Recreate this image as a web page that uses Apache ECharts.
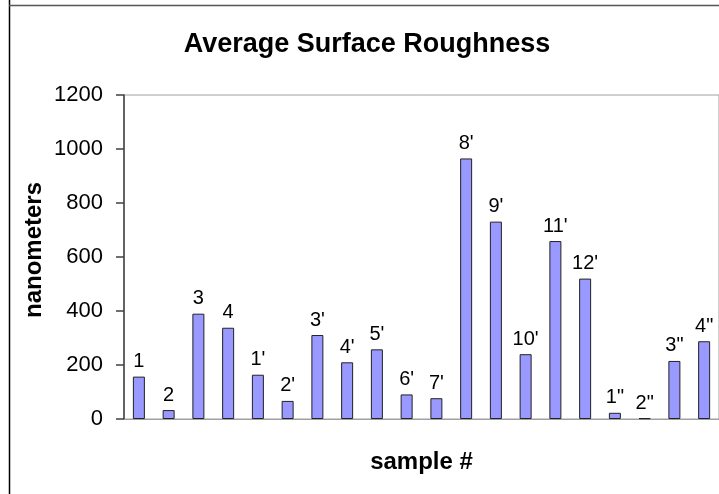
<!DOCTYPE html>
<html>
<head>
<meta charset="utf-8">
<script src="https://cdn.jsdelivr.net/npm/echarts@6/dist/echarts.min.js"></script>
<style>
html,body{margin:0;padding:0;background:#fff;}
#chart{width:719px;height:494px;}
</style>
</head>
<body>
<div id="chart"></div>
<script>
const categories = ['1','2','3','4',"1'","2'","3'","4'","5'","6'","7'","8'","9'","10'","11'","12'",'1"','2"','3"','4"'];
const roughness = [157,33,390,338,164,67,311,210,258,91,77,965,731,240,659,520,23,3,215,288];
const yTicks = [0,200,400,600,800,1000,1200];

const FONT = "'Liberation Sans', Arial, sans-serif";
const chart = echarts.init(document.getElementById('chart'), null, {renderer:'canvas'});
chart.setOption({
  animation: false,
  backgroundColor: '#ffffff',
  title: {
    text: 'Average Surface Roughness',
    left: 367, top: 31, textAlign: 'center', padding: 0,
    textStyle: {fontFamily: FONT, fontSize: 27, fontWeight: 'bold', color: '#000'}
  },
  graphic: [
    {type:'line', shape:{x1:9.5,y1:0,x2:9.5,y2:494}, style:{stroke:'#000',lineWidth:1.5}},
    {type:'line', shape:{x1:9,y1:5.5,x2:719,y2:5.5}, style:{stroke:'#555',lineWidth:1.5}},
    {type:'text', x:34, y:250, rotation:Math.PI/2,
     style:{text:'nanometers', fontFamily:FONT, fontSize:24, fontWeight:'bold', fill:'#000', align:'center', verticalAlign:'middle'}}
  ],
  grid: {left:124, top:95, width:600, height:324, show:true, borderColor:'#a0a0a0', borderWidth:1, backgroundColor:'transparent'},
  xAxis: {
    type:'category', data: categories,
    axisLine:{show:true, lineStyle:{color:'#a0a0a0', width:1}},
    axisTick:{show:false}, axisLabel:{show:false},
    name:'sample #', nameLocation:'middle', nameGap:31,
    nameTextStyle:{fontFamily:FONT, fontSize:24, fontWeight:'bold', color:'#000'}
  },
  yAxis: {
    type:'value', min: yTicks[0], max: yTicks[yTicks.length-1], interval: 200,
    axisLine:{show:true, lineStyle:{color:'#404040', width:1.5}},
    axisTick:{show:true, inside:false, length:8, lineStyle:{color:'#404040', width:1.5}},
    axisLabel:{margin:21, fontFamily:FONT, fontSize:22, color:'#000', formatter: v => String(v)},
    splitLine:{show:false}
  },
  series: [{
    type:'bar', data: roughness, barWidth: 12,
    itemStyle:{color:'#9999ff', borderColor:'#222', borderWidth:1},
    label:{show:true, position:'top', distance:5, formatter: p => categories[p.dataIndex],
      fontFamily:FONT, fontSize:20, color:'#000'}
  }]
});
</script>
</body>
</html>
